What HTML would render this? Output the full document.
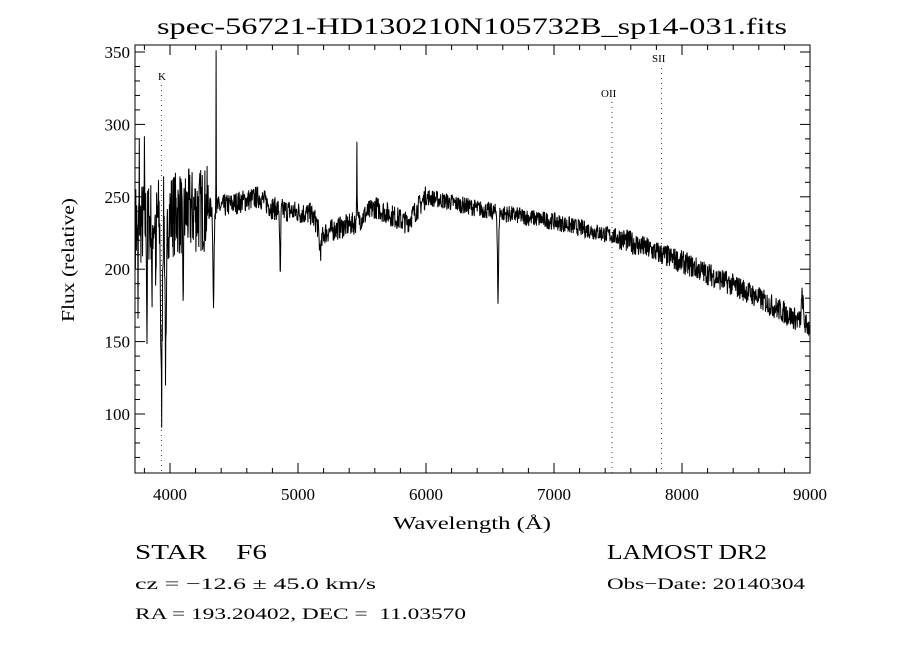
<!DOCTYPE html>
<html><head><meta charset="utf-8"><style>
body{margin:0;background:#fff;}
svg{display:block;font-family:"Liberation Serif",serif;}
text{white-space:pre;}
</style></head><body>
<svg id="s" width="900" height="650" xmlns="http://www.w3.org/2000/svg">
<rect width="900" height="650" fill="#fff"/>
<text x="157" y="34" font-size="23" textLength="630" lengthAdjust="spacingAndGlyphs">spec-56721-HD130210N105732B_sp14-031.fits</text>
<g id="ax" stroke="#000" stroke-width="1" fill="none"></g>
<g id="lab" font-size="17" fill="#000"></g>
<polyline id="sp" fill="none" stroke="#000" stroke-width="1"/>
<text x="393" y="529" font-size="18" textLength="158" lengthAdjust="spacingAndGlyphs">Wavelength (Å)</text>
<text transform="translate(74,260) rotate(-90)" font-size="18" text-anchor="middle" textLength="124" lengthAdjust="spacingAndGlyphs">Flux (relative)</text>
<text x="158" y="80" font-size="11">K</text>
<text x="601" y="97" font-size="11">OII</text>
<text x="652" y="62" font-size="11">SII</text>
<text x="135" y="559" font-size="21" textLength="132" lengthAdjust="spacingAndGlyphs">STAR    F6</text>
<text x="135" y="589" font-size="16" textLength="241" lengthAdjust="spacingAndGlyphs">cz = −12.6 ± 45.0 km/s</text>
<text x="135" y="619" font-size="16" textLength="331" lengthAdjust="spacingAndGlyphs">RA = 193.20402, DEC =  11.03570</text>
<text x="607" y="559" font-size="21" textLength="160" lengthAdjust="spacingAndGlyphs">LAMOST DR2</text>
<text x="607" y="589" font-size="16" textLength="198" lengthAdjust="spacingAndGlyphs">Obs−Date: 20140304</text>
</svg>
<script>
var L=135,R=810,T=45,B=473;
function X(w){return 170+(w-4000)*0.128;}
function Y(f){return 414-(f-100)*1.448;}
var ax=document.getElementById('ax'),lab=document.getElementById('lab'),h='',t='';
h+='<rect x="'+L+'" y="'+T+'" width="'+(R-L)+'" height="'+(B-T)+'"/>';
for(var w=3800;w<=9000;w+=200){var x=X(w),m=(w%1000==0)?10:5;h+='<line x1="'+x+'" y1="'+B+'" x2="'+x+'" y2="'+(B-m)+'"/><line x1="'+x+'" y1="'+T+'" x2="'+x+'" y2="'+(T+m)+'"/>';if(w%1000==0)t+='<text x="'+x+'" y="500" text-anchor="middle">'+w+'</text>';}
for(var f=70;f<=350;f+=10){var y=Y(f),m=(f%50==0)?10:5;h+='<line x1="'+L+'" y1="'+y+'" x2="'+(L+m)+'" y2="'+y+'"/><line x1="'+R+'" y1="'+y+'" x2="'+(R-m)+'" y2="'+y+'"/>';if(f%50==0)t+='<text x="'+(L-5)+'" y="'+(y+6)+'" text-anchor="end">'+f+'</text>';}
[[3933,85],[7453,102],[7840,68]].forEach(function(a){var x=X(a[0]);h+='<line x1="'+x+'" y1="'+a[1]+'" x2="'+x+'" y2="'+B+'" stroke="#633" stroke-dasharray="1,4"/>';});
ax.innerHTML=h;lab.innerHTML=t;
var seed=7;function r(){seed=(seed*16807)%2147483647;return seed/2147483647;}
var C=[[3730,230],[4000,238],[4400,243],[4700,250],[4800,242],[5100,238],[5200,225],[5450,232],[5600,243],[5850,232],[6000,250],[6500,240],[7000,233],[7500,222],[8000,205],[8500,185],[8800,170],[9000,160]];
function cont(w){for(var i=0;i<C.length-1;i++)if(w<=C[i+1][0]){var a=C[i],b=C[i+1];return a[1]+(b[1]-a[1])*(w-a[0])/(b[0]-a[0]);}return 160;}
var lines=[[3933,-130,8],[3968,-110,8],[4101,-60,6],[4340,-70,6],[4861,-50,5],[6563,-62,6],[5175,-15,15],[4360,110,2],[5460,50,3],[3820,-80,3],[3860,-70,3],[3890,-60,3],[3750,-80,2],[3760,40,2],[3800,35,2],[8940,18,10]];
var pts=[];
for(var w=3730;w<=9000;w+=2.5){var f=cont(w);var n=(w<4300)?(r()-0.5)*60:(r()-0.5)*(w<6000?16:(w<7500?12:16));f+=n;
lines.forEach(function(l){var d=(w-l[0])/l[2];f+=l[1]*Math.exp(-d*d);});
if(f>354)f=354;pts.push(X(w).toFixed(1)+','+Y(f).toFixed(1));}
document.getElementById('sp').setAttribute('points',pts.join(' '));
</script>
</body></html>
